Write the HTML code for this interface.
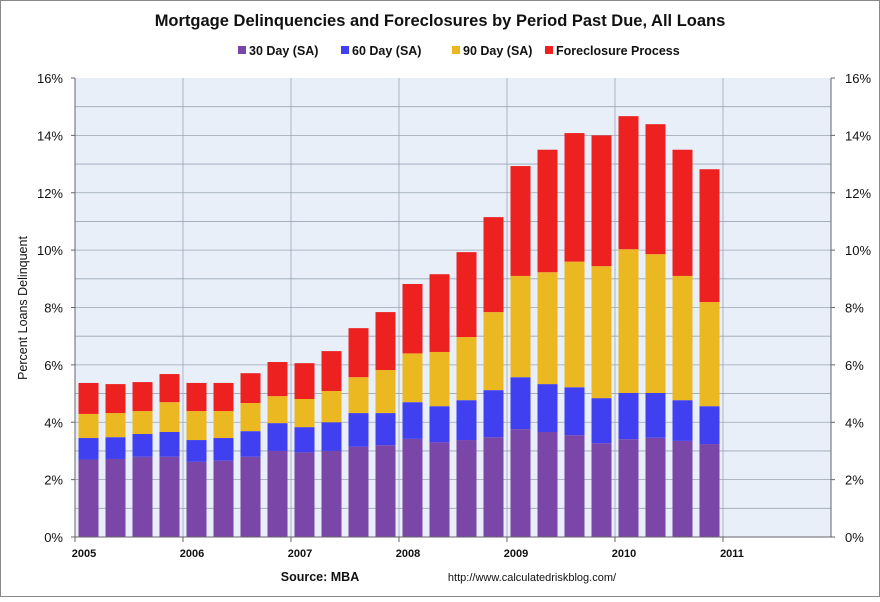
<!DOCTYPE html>
<html><head><meta charset="utf-8"><style>
body{margin:0;background:#fff;}
svg text{font-family:"Liberation Sans",sans-serif;}
</style></head><body>
<svg id="chart" width="880" height="597" xmlns="http://www.w3.org/2000/svg">
<rect x="0.5" y="0.5" width="879" height="596" fill="#fff" stroke="#888"/>
<text x="440" y="26" text-anchor="middle" font-size="16.5" font-weight="bold" fill="#111">Mortgage Delinquencies and Foreclosures by Period Past Due, All Loans</text>
<g id="legend"></g>
<rect x="75" y="78" width="756" height="459" fill="#e8eff9"/>
<g id="grid"></g>
<g id="bars"></g>
<g id="axes"></g>
<text transform="translate(27,308) rotate(-90)" text-anchor="middle" font-size="12.5" fill="#111">Percent Loans Delinquent</text>
<text x="320" y="581" text-anchor="middle" font-size="12.5" font-weight="bold" fill="#111">Source: MBA</text>
<text x="532" y="581" text-anchor="middle" font-size="11" fill="#111">http://www.calculatedriskblog.com/</text>
</svg>
<script>
const quarters = ["2005Q1","2005Q2","2005Q3","2005Q4","2006Q1","2006Q2","2006Q3","2006Q4","2007Q1","2007Q2","2007Q3","2007Q4","2008Q1","2008Q2","2008Q3","2008Q4","2009Q1","2009Q2","2009Q3","2009Q4","2010Q1","2010Q2","2010Q3","2010Q4"];
const day30 = [2.70,2.72,2.80,2.80,2.62,2.66,2.80,3.00,2.95,3.00,3.15,3.20,3.42,3.30,3.38,3.48,3.76,3.66,3.55,3.27,3.41,3.46,3.35,3.24];
const day60 = [0.75,0.76,0.79,0.86,0.76,0.79,0.89,0.97,0.88,1.00,1.17,1.12,1.28,1.26,1.39,1.64,1.81,1.67,1.67,1.57,1.61,1.56,1.42,1.32];
const day90 = [0.84,0.84,0.80,1.04,1.01,0.94,0.98,0.94,0.98,1.09,1.25,1.50,1.70,1.89,2.20,2.72,3.53,3.90,4.38,4.60,5.01,4.84,4.33,3.63];
const foreclosure = [1.08,1.01,1.01,0.98,0.98,0.98,1.04,1.19,1.25,1.39,1.71,2.02,2.42,2.71,2.96,3.31,3.83,4.27,4.48,4.56,4.64,4.53,4.40,4.63];
const yTicks = [0,2,4,6,8,10,12,14,16];
const xYears = ["2005","2006","2007","2008","2009","2010","2011"];
const seriesNames = ["30 Day (SA)","60 Day (SA)","90 Day (SA)","Foreclosure Process"];
const colors = ["#7a46a8","#4040f0","#ebb821","#ee2121"];
const series = [day30, day60, day90, foreclosure];
const NS = "http://www.w3.org/2000/svg";
const X0 = 75, X1 = 831, Y0 = 537, Y1 = 78, YMAX = 16;
const qW = (X1 - X0) / 28;
const y = v => Y0 - (v / YMAX) * (Y0 - Y1);
const xq = i => X0 + qW * i + qW / 2;
function mk(tag, attrs, parent){const e=document.createElementNS(NS,tag);for(const k in attrs)e.setAttribute(k,attrs[k]);parent.appendChild(e);return e;}
const grid=document.getElementById('grid'), bars=document.getElementById('bars'), axes=document.getElementById('axes'), legend=document.getElementById('legend');
for(let v=1; v<YMAX; v++){
  const l=mk('line',{x1:X0,x2:X1,y1:y(v),y2:y(v),stroke:'#9aa6b4','stroke-width':0.8},grid);
  
  
}
for(let k=1;k<=7;k++){
  const l=mk('line',{x1:X0+k*qW*4,x2:X0+k*qW*4,y1:Y1,y2:Y0,stroke:'#9aa6b4','stroke-width':0.8},grid);
  
  
}
quarters.forEach((q,i)=>{
  let base=0;
  series.forEach((s,j)=>{
    const top=base+s[i];
    const r=mk('rect',{x:xq(i)-10,y:y(top),width:20,height:y(base)-y(top),fill:colors[j]},bars);
    
    
    base=top;
  });
});
mk('line',{x1:X0,x2:X0,y1:Y1,y2:Y0,stroke:'#666'},axes);
mk('line',{x1:X1,x2:X1,y1:Y1,y2:Y0,stroke:'#666'},axes);
mk('line',{x1:X0,x2:X1,y1:Y0,y2:Y0,stroke:'#666'},axes);
yTicks.forEach(v=>{
  const t=mk('text',{x:63,y:y(v)+5,'text-anchor':'end','font-size':13,fill:'#111'},axes);
  t.textContent=v+'%';
  
  
  const t2=mk('text',{x:845,y:y(v)+5,'text-anchor':'start','font-size':13,fill:'#111'},axes);
  t2.textContent=v+'%';
  
  
  mk('line',{x1:X0-4,x2:X0,y1:y(v),y2:y(v),stroke:'#666'},axes);
  mk('line',{x1:X1,x2:X1+4,y1:y(v),y2:y(v),stroke:'#666'},axes);
});
xYears.forEach((yr,k)=>{
  const t=mk('text',{x:X0+k*qW*4+9,y:557,'text-anchor':'middle','font-size':11,'font-weight':'bold',fill:'#111'},axes);
  t.textContent=yr;
  
  
  mk('line',{x1:X0+k*qW*4,x2:X0+k*qW*4,y1:Y0,y2:Y0+5,stroke:'#666'},axes);
});
const lx=[238,341,452,545];
seriesNames.forEach((n,j)=>{
  const g=mk('g',{},legend);
  
  
  mk('rect',{x:lx[j],y:46,width:8,height:8,fill:colors[j]},g);
  const t=mk('text',{x:lx[j]+11,y:55,'font-size':12.5,'font-weight':'bold',fill:'#111'},g);
  t.textContent=n;
});
</script>
</body></html>
